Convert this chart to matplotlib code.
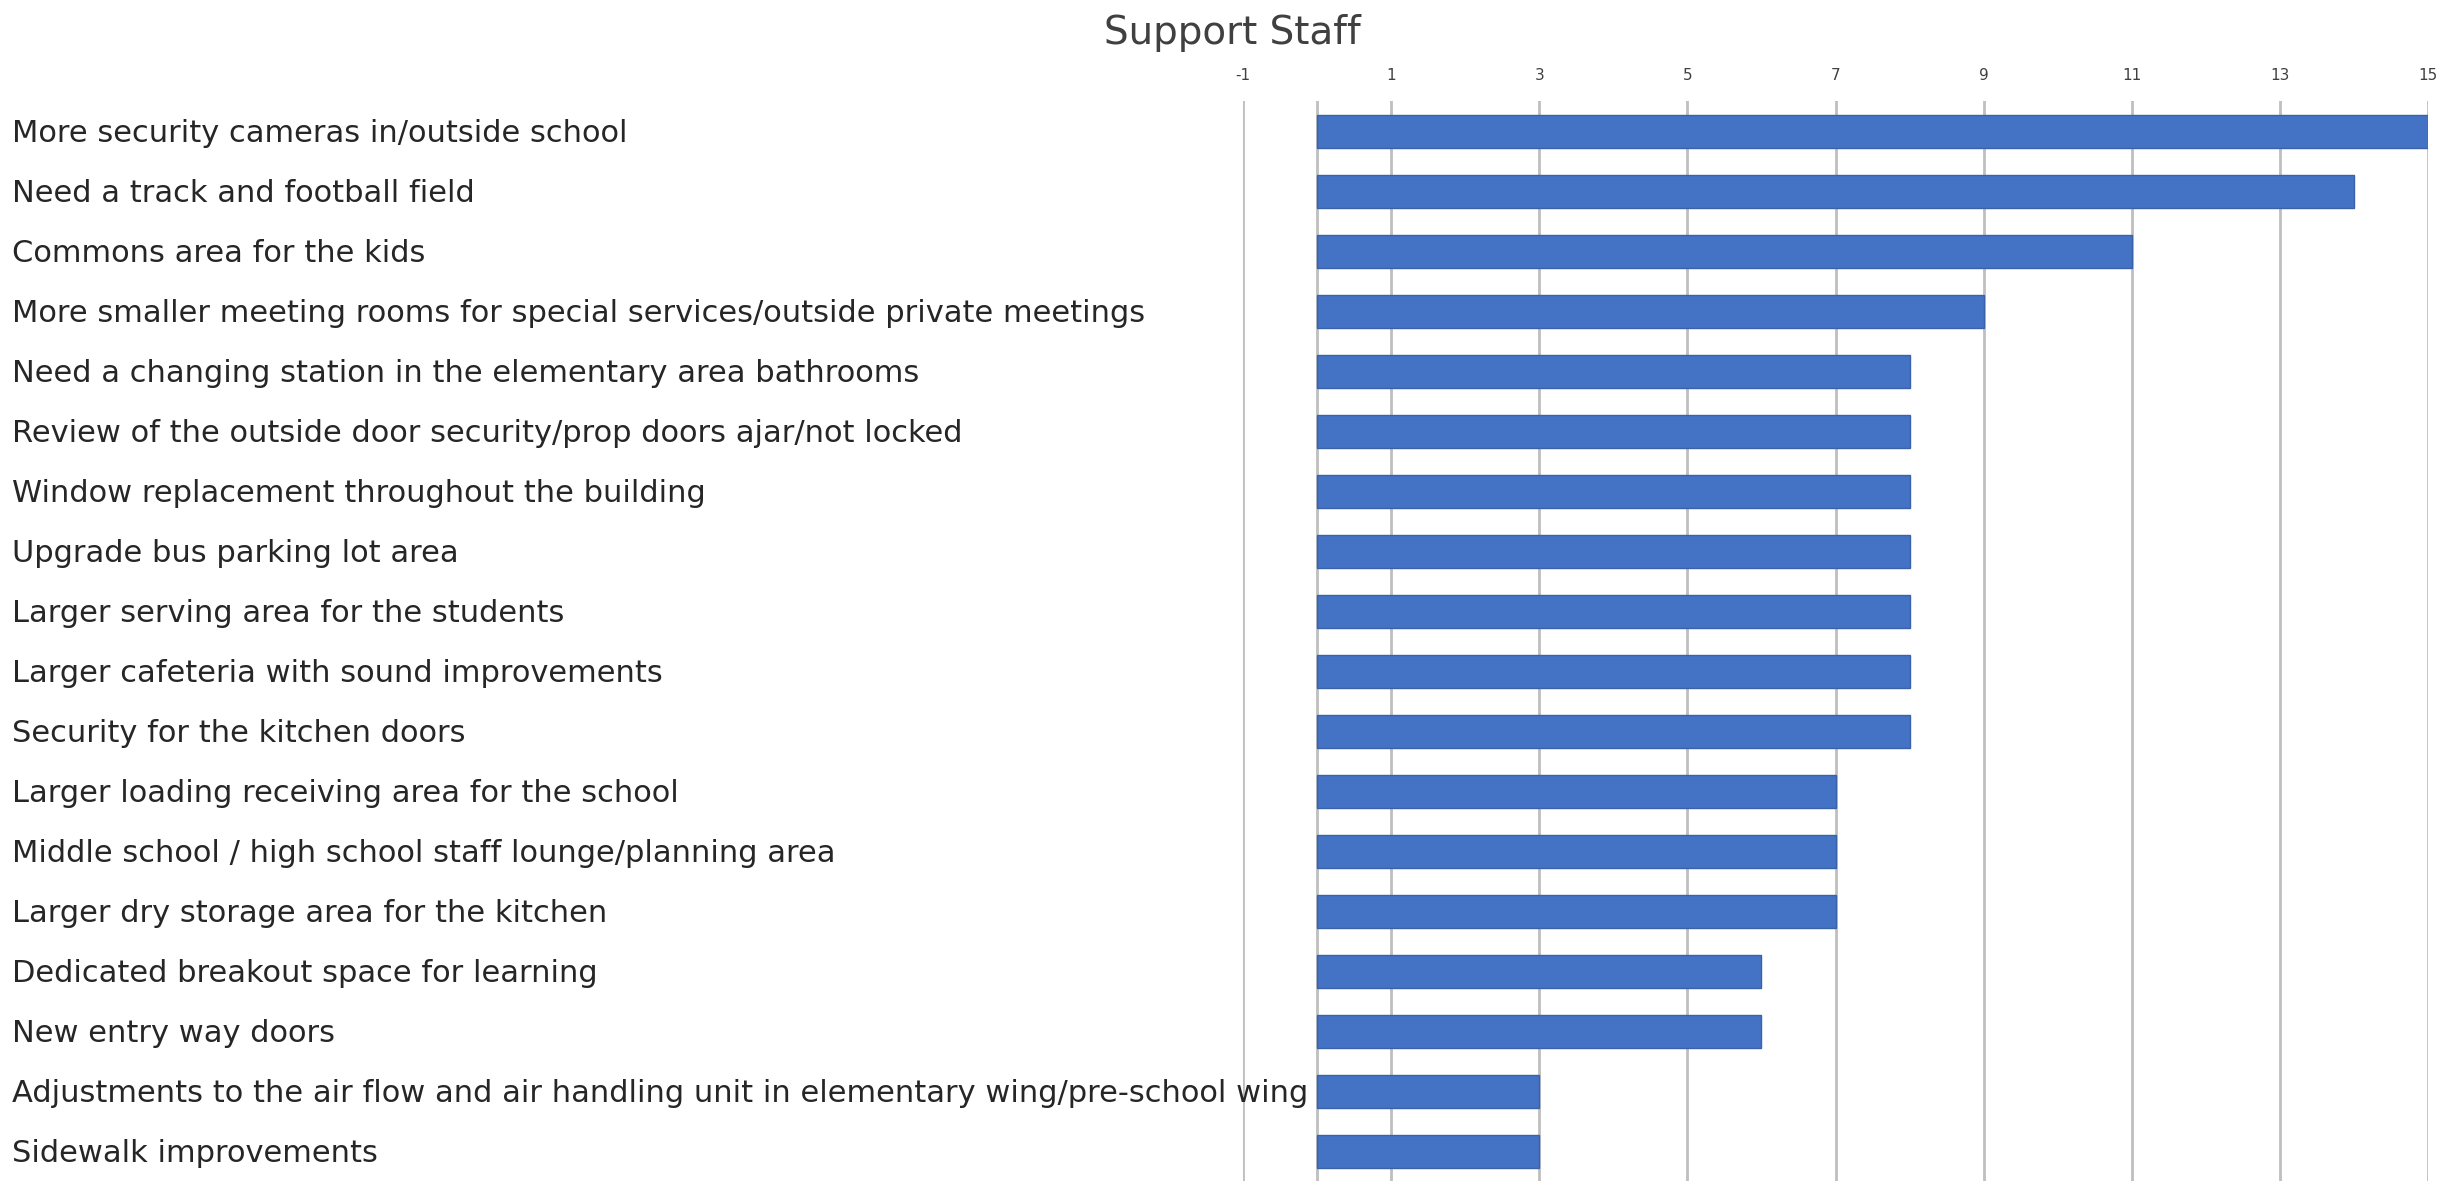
import numpy as np
import matplotlib.pyplot as plt

plt.rcParams['axes.unicode_minus'] = False

# Datos
items = [
    "More security cameras in/outside school",
    "Need a track and football field",
    "Commons area for the kids",
    "More smaller meeting rooms for special services/outside private meetings",
    "Need a changing station in the elementary area bathrooms",
    "Review of the outside door security/prop doors ajar/not locked",
    "Window replacement throughout the building",
    "Upgrade bus parking lot area",
    "Larger serving area for the students",
    "Larger cafeteria with sound improvements",
    "Security for the kitchen doors",
    "Larger loading receiving area for the school",
    "Middle school / high school staff lounge/planning area",
    "Larger dry storage area for the kitchen",
    "Dedicated breakout space for learning",
    "New entry way doors",
    "Adjustments to the air flow and air handling unit in elementary wing/pre-school wing",
    "Sidewalk improvements",
]
votes = [15, 14, 11, 9, 8, 8, 8, 8, 8, 8, 8, 7, 7, 7, 6, 6, 3, 3]
x_ticks = [-1, 1, 3, 5, 7, 9, 11, 13, 15]

W, H, DPI = 2445, 1181, 100
fig = plt.figure(figsize=(W / DPI, H / DPI), dpi=DPI)
fam = ['Liberation Sans Narrow', 'DejaVu Sans']

# ejes: izquierda en x=-1 (1243 px), derecha en 15 (2428 px), arriba 101 px, abajo 1181 px
ax = fig.add_axes([1243 / W, 0, (2428 - 1243) / W, (H - 101) / H])

y = np.arange(len(items))
ax.barh(y, votes, height=0.55, color='#4472C4', edgecolor='#3A62A8', linewidth=1, zorder=3)

ax.set_xlim(-1, 15)
ax.set_ylim(len(items) - 0.5, -0.5)

ax.set_xticks(x_ticks)
ax.xaxis.tick_top()
ax.tick_params(axis='x', length=0, pad=13, labelsize=11, labelcolor='#404040')
for lab in ax.get_xticklabels():
    lab.set_family(fam)
ax.grid(axis='x', color='#BFBFBF', linewidth=2, zorder=0)
ax.axvline(0, color='#BFBFBF', linewidth=2, zorder=1)

# etiquetas de categoría alineadas a la izquierda en x=12 px
pad_pt = (1243 - 12) * 72 / DPI
ax.set_yticks(y)
ax.set_yticklabels(items, fontsize=22, family=fam, color='#262626')
ax.tick_params(axis='y', length=0, pad=pad_pt)
for lab in ax.get_yticklabels():
    lab.set_horizontalalignment('left')

for s in ax.spines.values():
    s.set_visible(False)

fig.text(1232 / W, 1 - 33 / H, 'Support Staff', ha='center', va='center',
         fontsize=28, family=fam, color='#404040')

fig.savefig('out.png', dpi=DPI)
